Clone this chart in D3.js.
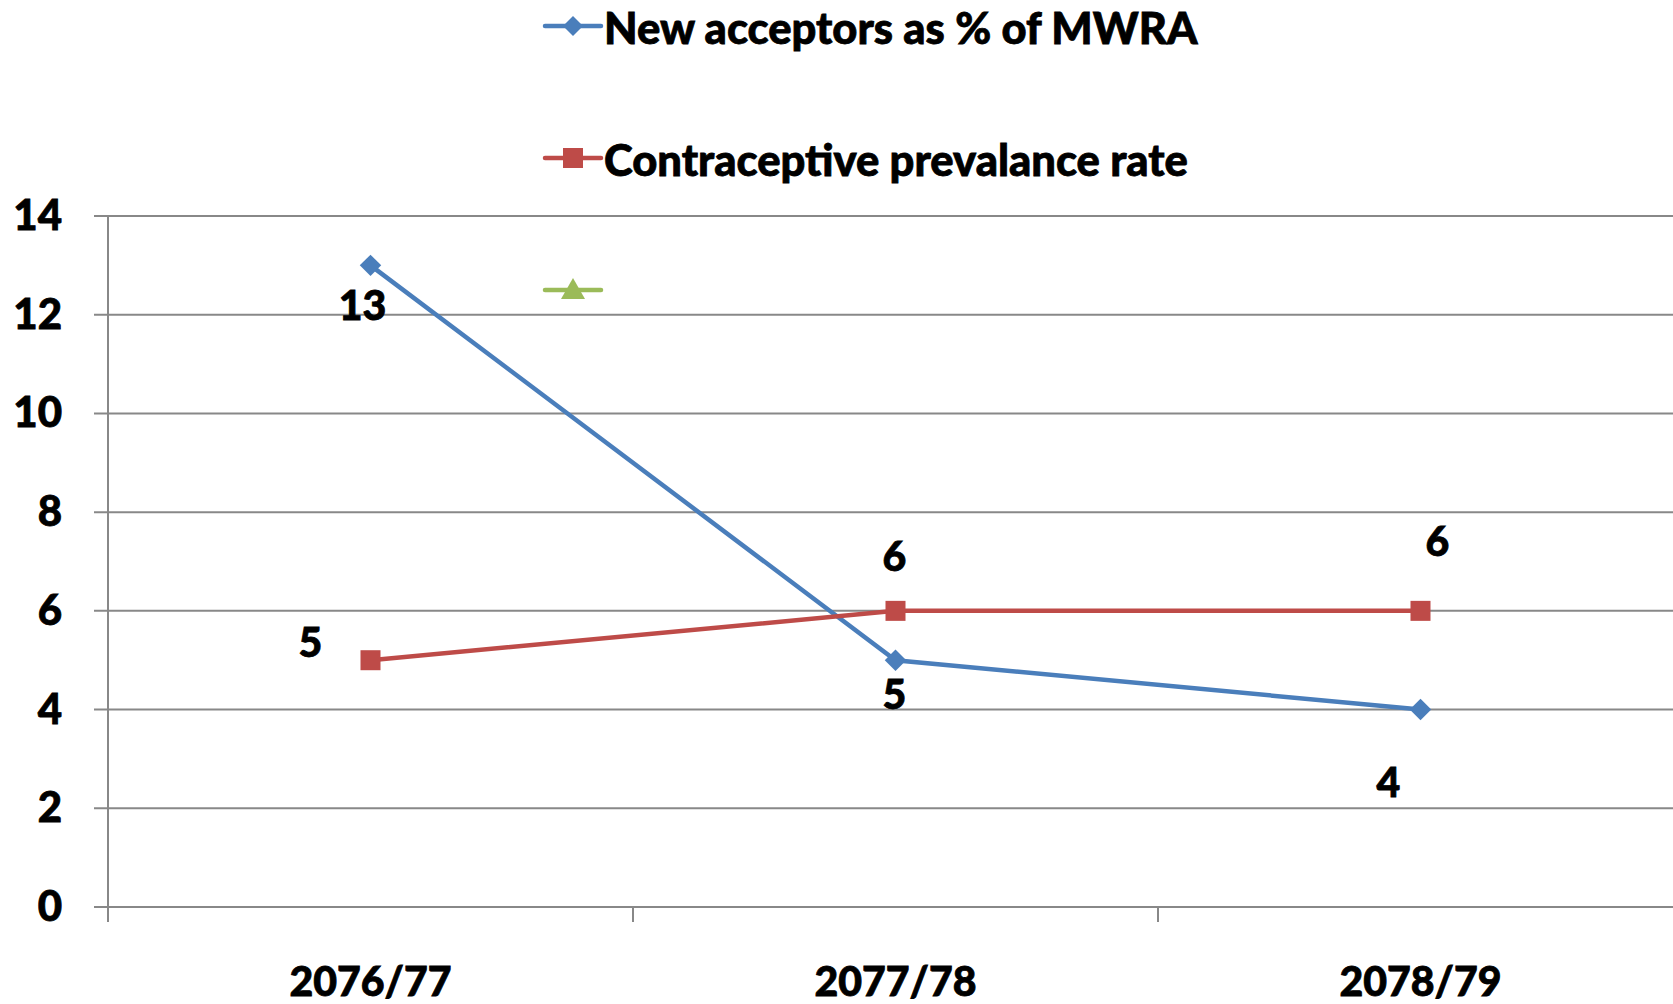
<!DOCTYPE html>
<html>
<head>
  <meta charset="utf-8">
  <script src="https://d3js.org/d3.v7.min.js"></script>
  <style>
    body { margin: 0; background: #fff; }
    text { font-family: Lato, "Liberation Sans", sans-serif; font-weight: 900; fill: #000;
           stroke: #000; stroke-width: 0.8px; }
  </style>
</head>
<body>
  <div id="chart"></div>
  <script>
    const categories = ["2076/77", "2077/78", "2078/79"];
    const newAcceptors = [13, 5, 4];
    const cpr = [5, 6, 6];
    const seriesNames = ["New acceptors as % of MWRA", "Contraceptive prevalance rate", ""];
    const yTicks = [0, 2, 4, 6, 8, 10, 12, 14];

    // hand placed data labels (offset from the point, px)
    const blueLabelOffsets = [[-8, 40], [-1, 34], [-32, 72]];
    const redLabelOffsets = [[-60, -18], [-1, -55], [17, -70]];

    const width = 1673, height = 1004;
    const svg = d3.select("#chart").append("svg").attr("width", width).attr("height", height);

    const x = d3.scaleBand().domain(categories).range([108, 1683]);
    const y = d3.scaleLinear().domain([0, 14]).range([907, 216]);
    const cx = d => x(d) + x.bandwidth() / 2;

    const gridColor = "#888";

    // gridlines
    svg.append("g").selectAll("line").data(yTicks).enter().append("line")
      .attr("x1", 94).attr("x2", width)
      .attr("y1", d => y(d)).attr("y2", d => y(d))
      .attr("stroke", gridColor).attr("stroke-width", 2);

    // y axis line
    svg.append("line").attr("x1", 108).attr("x2", 108).attr("y1", y(14)).attr("y2", 922)
      .attr("stroke", gridColor).attr("stroke-width", 2);

    // x ticks at category boundaries
    const bounds = categories.map(c => x(c)).concat([x(categories[2]) + x.bandwidth()]);
    svg.append("g").selectAll("line").data(bounds).enter().append("line")
      .attr("x1", d => d).attr("x2", d => d).attr("y1", y(0)).attr("y2", 922)
      .attr("stroke", gridColor).attr("stroke-width", 2);

    // y tick labels
    svg.append("g").selectAll("text").data(yTicks).enter().append("text")
      .attr("x", 62).attr("y", d => y(d) + 14)
      .attr("text-anchor", "end").attr("font-size", 42)
      .text(d => d);

    // x labels
    svg.append("g").selectAll("text").data(categories).enter().append("text")
      .attr("x", d => cx(d)).attr("y", 996)
      .attr("text-anchor", "middle").attr("font-size", 41)
      .text(d => d);

    const line = d3.line().x((d, i) => cx(categories[i])).y(d => y(d));

    const blue = "#4a7ebb", red = "#be4b48", green = "#9bbb59";

    svg.append("path").datum(newAcceptors).attr("d", line)
      .attr("fill", "none").attr("stroke", blue).attr("stroke-width", 4.5);
    svg.append("path").datum(cpr).attr("d", line)
      .attr("fill", "none").attr("stroke", red).attr("stroke-width", 4.5);

    const diamond = d3.symbol().type(d3.symbolSquare).size(230);
    svg.append("g").selectAll("path").data(newAcceptors).enter().append("path")
      .attr("d", diamond)
      .attr("transform", (d, i) => `translate(${cx(categories[i])},${y(d)}) rotate(45)`)
      .attr("fill", blue);

    svg.append("g").selectAll("rect").data(cpr).enter().append("rect")
      .attr("x", (d, i) => cx(categories[i]) - 10).attr("y", d => y(d) - 10)
      .attr("width", 20).attr("height", 20).attr("fill", red);

    // data labels
    svg.append("g").selectAll("text").data(newAcceptors).enter().append("text")
      .attr("x", (d, i) => cx(categories[i]) + blueLabelOffsets[i][0])
      .attr("y", (d, i) => y(d) + blueLabelOffsets[i][1] + 15)
      .attr("text-anchor", "middle").attr("font-size", 41)
      .text(d => d);
    svg.append("g").selectAll("text").data(cpr).enter().append("text")
      .attr("x", (d, i) => cx(categories[i]) + redLabelOffsets[i][0])
      .attr("y", (d, i) => y(d) + redLabelOffsets[i][1] + 15)
      .attr("text-anchor", "middle").attr("font-size", 41)
      .text(d => d);

    // legend
    const legendY = [26, 158, 290];
    const legendColors = [blue, red, green];
    const lg = svg.append("g");
    seriesNames.forEach((name, i) => {
      const g = lg.append("g").attr("transform", `translate(545,${legendY[i]})`);
      g.append("line").attr("x1", 0).attr("x2", 56).attr("y1", 0).attr("y2", 0)
        .attr("stroke", legendColors[i]).attr("stroke-width", 4.5).attr("stroke-linecap", "round");
      if (i === 0) {
        g.append("path").attr("d", d3.symbol().type(d3.symbolSquare).size(200))
          .attr("transform", "translate(28,0) rotate(45)").attr("fill", blue);
      } else if (i === 1) {
        g.append("rect").attr("x", 18).attr("y", -10).attr("width", 20).attr("height", 20).attr("fill", red);
      } else {
        g.append("path").attr("d", "M28,-12 L40,9 L16,9 Z").attr("fill", green);
      }
      g.append("text").attr("x", 59).attr("y", 18).attr("font-size", 43.5).text(name);
    });
  </script>
</body>
</html>
